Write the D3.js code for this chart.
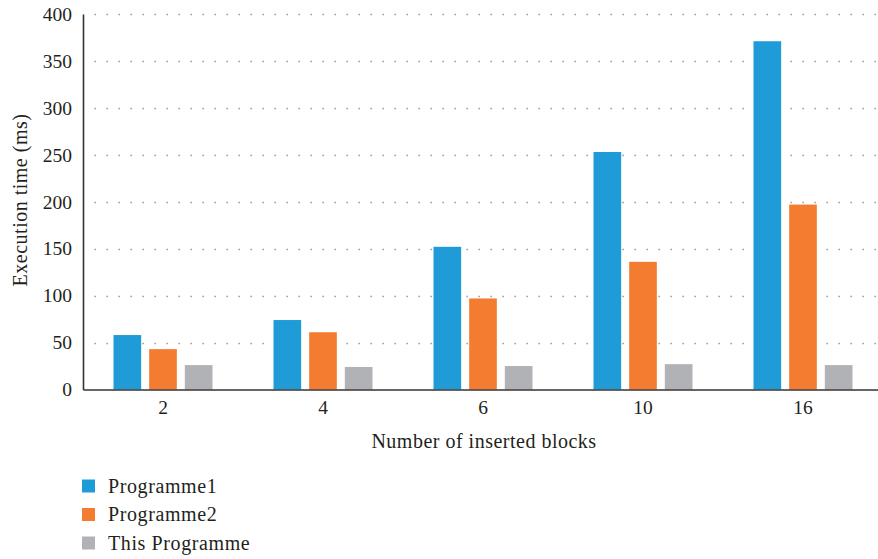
<!DOCTYPE html>
<html>
<head>
<meta charset="utf-8">
<script src="https://cdn.jsdelivr.net/npm/d3@7"></script>
<style>
  html, body { margin: 0; padding: 0; background: #fff; }
  svg text { font-family: "Liberation Serif", "DejaVu Serif", serif; fill: #231f20; }
</style>
</head>
<body>
<svg id="chart" width="878" height="559"></svg>
<script>
// Block counts on the x axis
const categories = ["2", "4", "6", "10", "16"];
// Execution times (ms) per programme
const programme1 = [58, 74, 152, 253, 371];
const programme2 = [43, 61, 97, 136, 197];
const thisProgramme = [26, 24, 25, 27, 26];
const seriesNames = ["Programme1", "Programme2", "This Programme"];
const seriesColors = ["#1f9cd8", "#f47c30", "#b1b2b5"];
const yTicks = [0, 50, 100, 150, 200, 250, 300, 350, 400];

const series = [programme1, programme2, thisProgramme];

(function draw() {
  const svg = d3.select("#chart");
  const plotLeft = 83, plotRight = 883, plotTop = 14, plotBottom = 389.5;

  const x0 = d3.scaleBand().domain(categories).range([plotLeft, plotRight]).padding(0);
  const x1 = d3.scaleBand().domain(d3.range(series.length)).range([0, 99]).paddingInner(0.224);
  const y = d3.scaleLinear().domain([0, 400]).range([plotBottom, plotTop]);

  // Dotted horizontal gridlines
  svg.append("g")
    .selectAll("line")
    .data(yTicks.filter(t => t > 0))
    .join("line")
    .attr("x1", plotLeft + 11.5)
    .attr("x2", 878)
    .attr("y1", d => Math.round(y(d)) + 0.5)
    .attr("y2", d => Math.round(y(d)) + 0.5)
    .attr("stroke", "#8a8a8a")
    .attr("stroke-width", 1.3)
    .attr("stroke-dasharray", "1.3,10.7");

  // Bars
  const groups = svg.append("g")
    .selectAll("g")
    .data(categories)
    .join("g")
    .attr("transform", d => `translate(${x0(d) + x0.bandwidth() / 2 - 49.5},0)`);

  groups.selectAll("rect")
    .data((d, i) => series.map((s, k) => ({ k, v: s[i] })))
    .join("rect")
    .attr("x", d => x1(d.k))
    .attr("width", x1.bandwidth())
    .attr("y", d => y(d.v))
    .attr("height", d => plotBottom - y(d.v))
    .attr("fill", d => seriesColors[d.k]);

  // Y axis
  const yAxis = svg.append("g")
    .attr("transform", `translate(${plotLeft},0)`)
    .call(d3.axisLeft(y).tickValues(yTicks).tickSize(0).tickPadding(11));
  yAxis.select(".domain").attr("stroke", "#333").attr("stroke-width", 1.6);
  yAxis.selectAll("text").attr("font-size", 19.5).style("font-family", "Liberation Serif, serif").attr("fill", "#231f20");

  // X axis
  const xAxis = svg.append("g")
    .attr("transform", `translate(0,${plotBottom})`)
    .call(d3.axisBottom(x0).tickSize(0).tickPadding(11));
  xAxis.select(".domain").attr("stroke", "#333").attr("stroke-width", 1.6);
  xAxis.selectAll("text").attr("font-size", 19.5).style("font-family", "Liberation Serif, serif").attr("fill", "#231f20");

  // Axis titles
  svg.append("text")
    .attr("x", 484)
    .attr("y", 448)
    .attr("text-anchor", "middle")
    .attr("font-size", 20)
    .attr("letter-spacing", 0.5)
    .text("Number of inserted blocks");

  svg.append("text")
    .attr("transform", "translate(27,200) rotate(-90)")
    .attr("text-anchor", "middle")
    .attr("font-size", 20)
    .attr("letter-spacing", 0.5)
    .text("Execution time (ms)");

  // Legend
  const legend = svg.append("g")
    .selectAll("g")
    .data(seriesNames)
    .join("g")
    .attr("transform", (d, i) => `translate(82,${486 + i * 28.5})`);
  legend.append("rect")
    .attr("x", 0).attr("y", -6.5)
    .attr("width", 13).attr("height", 13)
    .attr("fill", (d, i) => seriesColors[i]);
  legend.append("text")
    .attr("x", 26)
    .attr("y", 6.5)
    .attr("font-size", 20)
    .attr("letter-spacing", 0.6)
    .text(d => d);
})();
</script>
</body>
</html>
